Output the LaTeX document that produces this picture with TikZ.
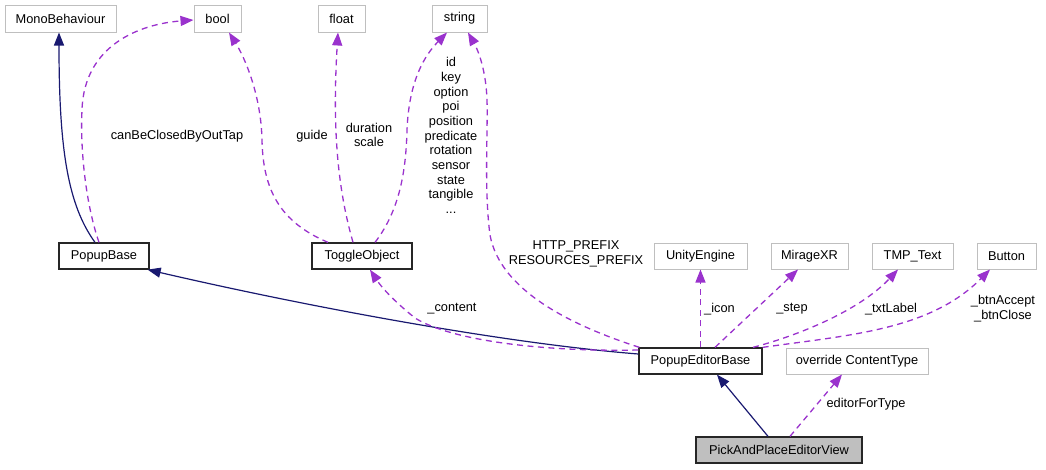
\documentclass[tikz,border=0pt]{standalone}
\usepackage{fontspec}
\setmainfont{Liberation Sans}
\usetikzlibrary{arrows.meta}
\definecolor{navy}{HTML}{191970}
\definecolor{orchid}{HTML}{9A32CD}
\definecolor{gborder}{HTML}{BFBFBF}
\definecolor{gfill}{HTML}{BFBFBF}
\begin{document}
\begin{tikzpicture}[x=1pt,y=-1pt,
  every node/.style={font=\fontsize{12.8}{14.7}\selectfont, inner sep=0pt},
  ext/.style={draw=gborder, line width=1pt, fill=white, minimum height=27pt},
  cls/.style={draw=black!85, line width=1.3pt, fill=white, minimum height=26pt},
  cur/.style={cls, fill=gfill},
  inh/.style={draw=navy, line width=1.2pt, -{Triangle[length=13pt,width=10pt]}, fill=none},
  use/.style={draw=orchid, line width=1.3pt, dash pattern=on 6pt off 4.5pt, -{Triangle[length=13pt,width=10pt]}},
  lbl/.style={align=center}
]
\useasboundingbox (0,0) rectangle (1046,469);
% nodes
\node[ext, minimum width=111pt] (mono) at (60.5,18.5) {MonoBehaviour};
\node[ext, minimum width=47pt] (bool) at (217.5,18.5) {bool};
\node[ext, minimum width=47pt] (float) at (341.5,18.5) {float};
\node[ext, minimum width=55pt] (string) at (459.5,18.5) {string};
\node[cls, minimum width=90pt] (popupbase) at (104,256) {PopupBase};
\node[cls, minimum width=100pt] (toggle) at (362,256) {ToggleObject};
\node[ext, minimum width=93pt, minimum height=26pt] (unity) at (700.5,256) {UnityEngine};
\node[ext, minimum width=77pt, minimum height=26pt] (mirage) at (809.5,256) {MirageXR};
\node[ext, minimum width=81pt, minimum height=26pt] (tmp) at (912.5,256) {TMP\_Text};
\node[ext, minimum width=59pt, minimum height=26pt] (button) at (1006.5,256) {Button};
\node[cls, minimum width=123pt] (peb) at (700.5,361) {PopupEditorBase};
\node[ext, minimum width=142pt, minimum height=26pt] (oct) at (857,361) {override ContentType};
\node[cur, minimum width=166pt] (pap) at (779,450) {PickAndPlaceEditorView};

% inheritance
\draw[inh] ([xshift=-9pt]popupbase.north) .. controls (68,205) and (59,150) .. ([xshift=-1.5pt]mono.south);
\draw[inh] ([yshift=7pt]peb.west) .. controls (500,343) and (300,305) .. ([xshift=-2pt]popupbase.south east);
\draw[inh] ([xshift=-11pt]pap.north) -- ([xshift=16.5pt]peb.south);

% usage
\draw[use] ([xshift=-5pt]popupbase.north) .. controls (86,205) and (80,150) .. (82,110)
   .. controls (84,45) and (140,24) .. ([yshift=-1.5pt]bool.west);
\draw[use] ([xshift=-34pt]toggle.north) .. controls (280,222) and (263,190) .. (262,140)
   .. controls (261,95) and (245,58) .. ([xshift=11.5pt]bool.south);
\draw[use] ([xshift=-9pt]toggle.north) .. controls (338,190) and (332,130) .. ([xshift=-3.5pt]float.south);
\draw[use] ([xshift=13pt]toggle.north) .. controls (400,210) and (406,170) .. (407,130)
   .. controls (409,80) and (425,55) .. ([xshift=-12.5pt]string.south);
\draw[use] ([xshift=1pt]peb.north west) .. controls (570,325) and (500,290) .. (490,235)
   .. controls (484,190) and (488,130) .. (487,100)
   .. controls (486,70) and (478,50) .. ([xshift=8.5pt]string.south);
\draw[use] ([yshift=11pt]peb.west) .. controls (540,352) and (450,340) .. (415,318)
   .. controls (395,302) and (382,288) .. ([xshift=8pt]toggle.south);
\draw[use] (peb.north) -- (unity.south);
\draw[use] ([xshift=14.5pt]peb.north) -- ([xshift=-11.5pt]mirage.south);
\draw[use] ([xshift=52.5pt]peb.north) .. controls (800,335) and (860,310) .. ([xshift=-14.5pt]tmp.south);
\draw[use] (peb.north east) .. controls (850,335) and (930,330) .. ([xshift=-16.5pt]button.south);
\draw[use] ([xshift=11pt]pap.north) -- ([xshift=-15pt]oct.south);

% labels
\node[lbl] (l1) at (177,136) {canBeClosedByOutTap};
\node[lbl] (l2) at (312,136) {guide};
\node[lbl] (l3) at (369,135) {duration\\scale};
\node[lbl] (l4) at (451,135.5) {id\\key\\option\\poi\\position\\predicate\\rotation\\sensor\\state\\tangible\\...};
\node[lbl] (l5) at (576,254) {HTTP\_PREFIX\\RESOURCES\_PREFIX};
\node[lbl] (l6) at (452,309) {\_content};
\node[lbl] (l7) at (719.5,309) {\_icon};
\node[lbl] (l8) at (792,309) {\_step};
\node[lbl] (l9) at (891,309) {\_txtLabel};
\node[lbl] (l10) at (1003,308.5) {\_btnAccept\\\_btnClose};
\node[lbl] (l11) at (866,404) {editorForType};
\end{tikzpicture}
\end{document}
